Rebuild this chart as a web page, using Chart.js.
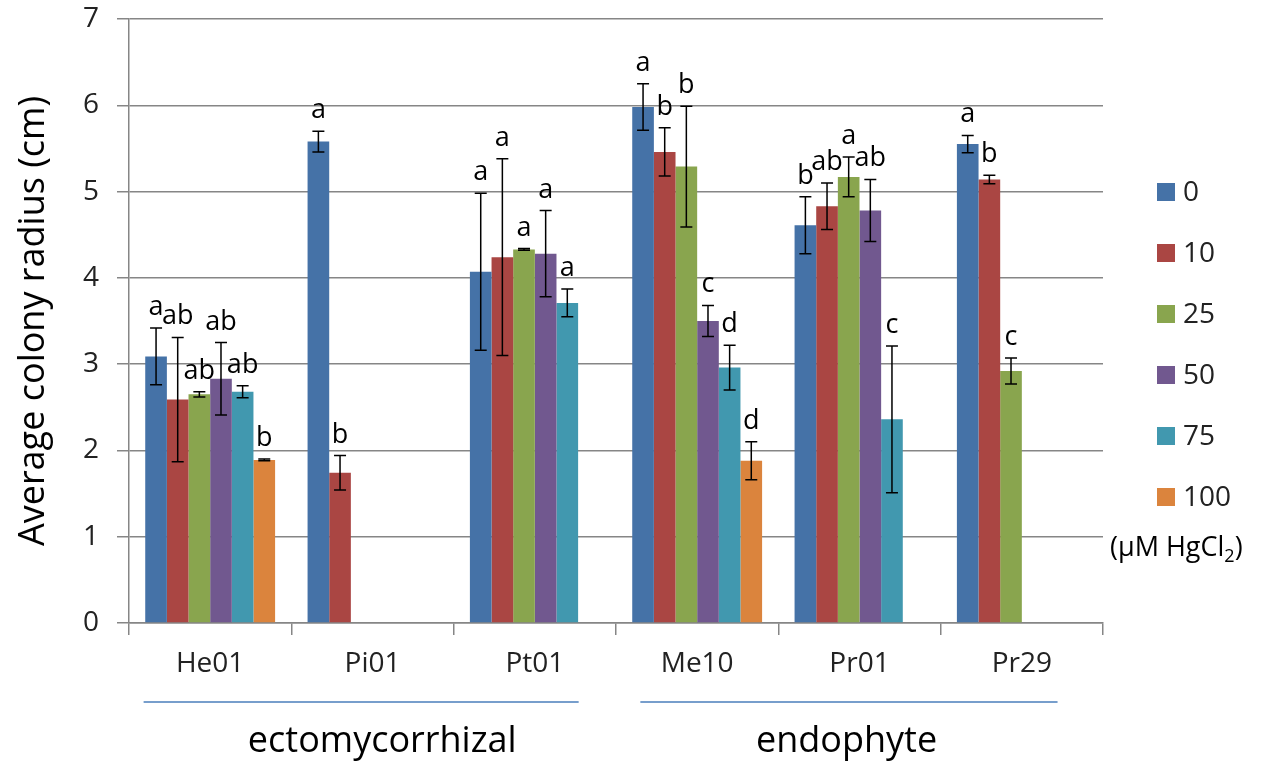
<!DOCTYPE html>
<html>
<head>
<meta charset="utf-8">
<script src="https://cdn.jsdelivr.net/npm/chart.js@4"></script>
<style>
  html, body { margin: 0; padding: 0; background: #fff; }
  #wrap { width: 1261px; height: 763px; }
</style>
</head>
<body>
<div id="wrap"><canvas id="chart" width="1261" height="763"></canvas></div>
<script>
const FONT = '"Open Sans", "Liberation Sans", sans-serif';

const categories = ['He01', 'Pi01', 'Pt01', 'Me10', 'Pr01', 'Pr29'];
const seriesNames = ['0', '10', '25', '50', '75', '100'];
const seriesColors = ['#4572A7', '#AA4643', '#89A54E', '#71588F', '#4198AF', '#DB843D'];

// mean colony radius (cm) per HgCl2 level
const r0   = [3.09, 5.58, 4.07, 5.98, 4.61, 5.55];
const r10  = [2.59, 1.74, 4.24, 5.46, 4.83, 5.14];
const r25  = [2.65, null, 4.33, 5.29, 5.17, 2.92];
const r50  = [2.83, null, 4.28, 3.50, 4.78, null];
const r75  = [2.68, null, 3.71, 2.96, 2.36, null];
const r100 = [1.89, null, null, 1.88, null, null];

// error bar half-lengths
const e0   = [0.33, 0.12, 0.91, 0.27, 0.33, 0.10];
const e10  = [0.72, 0.20, 1.14, 0.28, 0.27, 0.05];
const e25  = [0.03, null, 0.01, 0.70, 0.23, 0.15];
const e50  = [0.42, null, 0.50, 0.18, 0.36, null];
const e75  = [0.07, null, 0.16, 0.26, 0.85, null];
const e100 = [0.01, null, null, 0.22, null, null];

// significance letters
const l0   = ['a', 'a', 'a', 'a', 'b', 'a'];
const l10  = ['ab', 'b', 'a', 'b', 'ab', 'b'];
const l25  = ['ab', null, 'a', 'b', 'a', 'c'];
const l50  = ['ab', null, 'a', 'c', 'ab', null];
const l75  = ['ab', null, 'a', 'd', 'c', null];
const l100 = ['b', null, null, 'd', null, null];

const yTicks = [0, 1, 2, 3, 4, 5, 6, 7];

const groupNames = ['ectomycorrhizal', 'endophyte'];
const groupLineFrom = [-0.41, 2.65];
const groupLineTo = [2.27, 5.22];
const groupLabelAt = [1.06, 3.92];

const values = [r0, r10, r25, r50, r75, r100];
const errors = [e0, e10, e25, e50, e75, e100];
const letters = [l0, l10, l25, l50, l75, l100];

const datasets = seriesNames.map((name, i) => ({
    label: name,
    data: values[i],
    backgroundColor: seriesColors[i],
    borderWidth: 0,
    categoryPercentage: 0.8,
    barPercentage: 1.0
}));

const extras = {
    id: 'extras',
    afterDatasetsDraw(chart) {
        const c = chart.ctx;
        const y = chart.scales.y;
        // error bars + letters
        chart.data.datasets.forEach((ds, i) => {
            const meta = chart.getDatasetMeta(i);
            meta.data.forEach((bar, j) => {
                const v = values[i][j];
                if (v == null) return;
                const e = errors[i][j] || 0;
                const top = y.getPixelForValue(v + e);
                const bot = y.getPixelForValue(v - e);
                c.save();
                c.strokeStyle = '#000';
                c.lineWidth = 1.5;
                c.beginPath();
                c.moveTo(bar.x, top); c.lineTo(bar.x, bot);
                c.moveTo(bar.x - 6, top); c.lineTo(bar.x + 6, top);
                c.moveTo(bar.x - 6, bot); c.lineTo(bar.x + 6, bot);
                c.stroke();
                const t = letters[i][j];
                if (t) {
                    c.fillStyle = '#000';
                    c.font = '27px ' + FONT;
                    c.textAlign = 'center';
                    c.textBaseline = 'alphabetic';
                    c.fillText(t, bar.x, top - 13);
                }
                c.restore();
            });
        });
    },
    afterDraw(chart) {
        const c = chart.ctx;
        const x = chart.scales.x;
        c.save();
        // group lines and names
        groupNames.forEach((g, k) => {
            c.strokeStyle = '#4A7EBB';
            c.lineWidth = 1.5;
            c.beginPath();
            c.moveTo(x.getPixelForValue(groupLineFrom[k]), 702);
            c.lineTo(x.getPixelForValue(groupLineTo[k]), 702);
            c.stroke();
            c.fillStyle = '#000';
            c.font = '36px ' + FONT;
            c.textAlign = 'center';
            c.textBaseline = 'alphabetic';
            c.fillText(g, x.getPixelForValue(groupLabelAt[k]), 752);
        });
        // legend
        c.font = '28px ' + FONT;
        c.textAlign = 'left';
        c.textBaseline = 'middle';
        chart.data.datasets.forEach((ds, i) => {
            const cy = 192 + i * 61;
            c.fillStyle = ds.backgroundColor;
            c.fillRect(1157, cy - 9, 18, 18);
            c.fillStyle = '#222';
            c.fillText(ds.label, 1183, cy + 1);
        });
        // unit note with subscript
        let px = 1110;
        const py = 548;
        c.fillStyle = '#000';
        c.font = '27px ' + FONT;
        const p1 = '(\u00B5M HgCl';
        c.fillText(p1, px, py);
        px += c.measureText(p1).width;
        c.font = '18px ' + FONT;
        c.fillText('2', px, py + 9);
        px += c.measureText('2').width;
        c.font = '27px ' + FONT;
        c.fillText(')', px, py);
        c.restore();
    }
};

new Chart(document.getElementById('chart'), {
    type: 'bar',
    data: { labels: categories, datasets: datasets },
    options: {
        responsive: false,
        animation: false,
        devicePixelRatio: 1,
        layout: { padding: { top: 19, right: 158, left: 0, bottom: 0 } },
        plugins: { legend: { display: false }, tooltip: { enabled: false } },
        scales: {
            x: {
                offset: true,
                grid: {
                    offset: true,
                    drawOnChartArea: false,
                    drawTicks: true,
                    tickLength: 12,
                    color: '#868686',
                    lineWidth: 1.5
                },
                border: { color: '#868686', width: 1.5 },
                ticks: { color: '#222', font: { family: FONT, size: 28 }, padding: 12 },
                afterFit(s) { s.height = 140; s.paddingLeft = 0; s.paddingRight = 0; }
            },
            y: {
                min: 0,
                max: 7,
                afterBuildTicks(s) { s.ticks = yTicks.map(v => ({ value: v })); },
                grid: { color: '#868686', lineWidth: 1.5, tickLength: 12 },
                border: { color: '#868686', width: 1.5 },
                ticks: { color: '#222', font: { family: FONT, size: 28 }, padding: 18 },
                title: {
                    display: true,
                    text: 'Average colony radius (cm)',
                    color: '#000',
                    font: { family: FONT, size: 36 },
                    padding: { top: 12, bottom: 0 }
                },
                afterFit(s) { s.width = 129; s.paddingTop = 0; s.paddingBottom = 0; }
            }
        }
    },
    plugins: [extras]
});
</script>
</body>
</html>
